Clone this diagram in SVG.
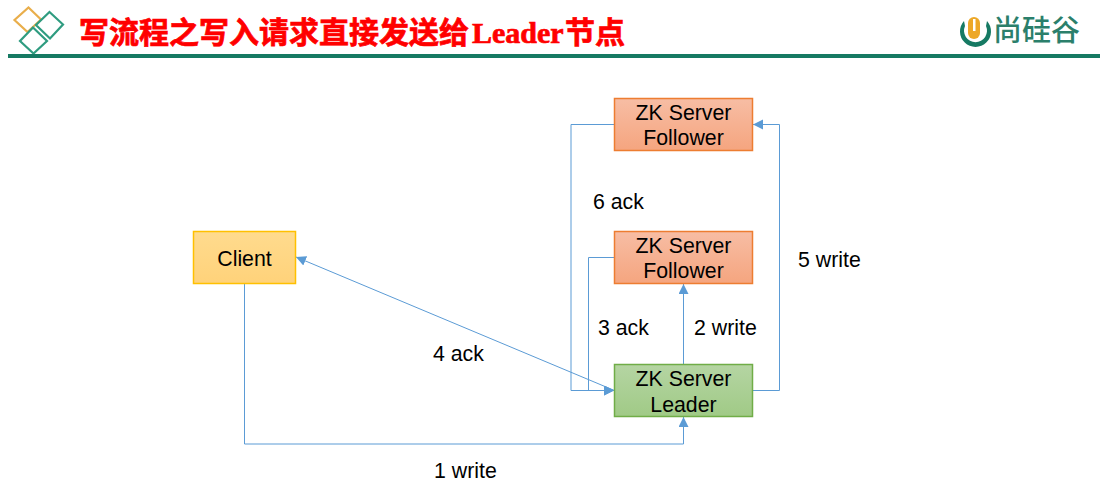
<svg xmlns="http://www.w3.org/2000/svg" width="1112" height="491" viewBox="0 0 1112 491">
<style>
text{font-family:"Liberation Sans","Noto Sans CJK SC",sans-serif;font-size:21.300px;fill:#000}
.m{text-anchor:middle}
.n{stroke-width:1.500}
.c{fill:none;stroke:#5b9bd5;stroke-width:1}
.d{fill:none;stroke-width:2.200}
</style>
<defs>
<marker id="a" markerUnits="userSpaceOnUse" markerWidth="11" markerHeight="11" refX="10" refY="5" orient="auto"><path d="M0 0L10 5L0 10Z" fill="#5b9bd5"/></marker>
<linearGradient id="o" x1="0" y1="0" x2="0" y2="1"><stop offset="0" stop-color="#f7bda4"/><stop offset="1" stop-color="#f5a57f"/></linearGradient>
<linearGradient id="g" x1="0" y1="0" x2="0" y2="1"><stop offset="0" stop-color="#b5d5a3"/><stop offset="1" stop-color="#a0ca86"/></linearGradient>
<linearGradient id="y" x1="0" y1="0" x2="0" y2="1"><stop offset="0" stop-color="#ffdb8e"/><stop offset="1" stop-color="#ffd27a"/></linearGradient>
</defs>
<g id="header">
<path class="d" stroke="#e9ae4b" d="M28.500 7.500L41 19.500L27.500 32L14.500 20Z"/>
<path class="d" stroke="#2f9c80" d="M49.500 12L63 24.500L50 38.500L36 25Z"/>
<path class="d" stroke="#2f9c80" d="M33 27.500L47 41L33.500 53.500L20 41Z"/>
<rect x="8" y="54" width="1092" height="4" fill="#167a63"/>
<text x="79" y="43" style="font-size:30px;font-weight:700;fill:#f00;stroke:#f00;stroke-width:.7"><tspan style="font-family:'Noto Sans CJK SC',sans-serif">写流程之写入请求直接发送给</tspan><tspan x="472" style="font-family:'Liberation Serif',serif">Leader</tspan><tspan x="565" style="font-family:'Noto Sans CJK SC',sans-serif">节点</tspan></text>
<path d="M964 21A15.500 15.500 0 1 0 987 21L986 26A11.500 11.500 0 1 1 965 26Z" fill="#167a63"/>
<rect x="968" y="17" width="12" height="22" rx="6" fill="#eda828"/>
<rect x="973" y="19" width="2.500" height="12" fill="#fff"/>
<text x="993" y="41" style="font-size:29px;font-weight:500;fill:#2b7f6b;font-family:'Noto Sans CJK SC',sans-serif">尚硅谷</text>
</g>
<g id="connectors">
<path class="c" d="M244.500 283.500V444H683.500V417" marker-end="url(#a)"/>
<path class="c" d="M683.500 364.500V284" marker-end="url(#a)"/>
<path class="c" d="M614.500 257.500H588.500V390.500H614" marker-end="url(#a)"/>
<path class="c" d="M614.500 390.500L296 257" marker-end="url(#a)"/>
<path class="c" d="M752.500 390.500H779.500V124.500H753" marker-end="url(#a)"/>
<path class="c" d="M614.500 124.500H571V390.500H614" marker-end="url(#a)"/>
</g>
<g id="follower1"><rect class="n" x="614.500" y="98.500" width="138" height="52" fill="url(#o)" stroke="#ed7d31"/><text class="m" x="683.500" y="120">ZK Server</text><text class="m" x="683.500" y="145">Follower</text></g>
<g id="follower2"><rect class="n" x="614.500" y="231.500" width="138" height="52" fill="url(#o)" stroke="#ed7d31"/><text class="m" x="683.500" y="253">ZK Server</text><text class="m" x="683.500" y="278">Follower</text></g>
<g id="leader"><rect class="n" x="614.500" y="364.500" width="138" height="52" fill="url(#g)" stroke="#70ad47"/><text class="m" x="683.500" y="386">ZK Server</text><text class="m" x="683.500" y="412">Leader</text></g>
<g id="client"><rect class="n" x="193.500" y="231.500" width="102" height="52" fill="url(#y)" stroke="#ffc000"/><text class="m" x="244.500" y="266">Client</text></g>
<g id="labels">
<text x="593" y="209">6 ack</text>
<text x="798" y="267">5 write</text>
<text x="598" y="335">3 ack</text>
<text x="694" y="335">2 write</text>
<text x="433" y="361">4 ack</text>
<text x="434" y="478">1 write</text>
</g>
</svg>
